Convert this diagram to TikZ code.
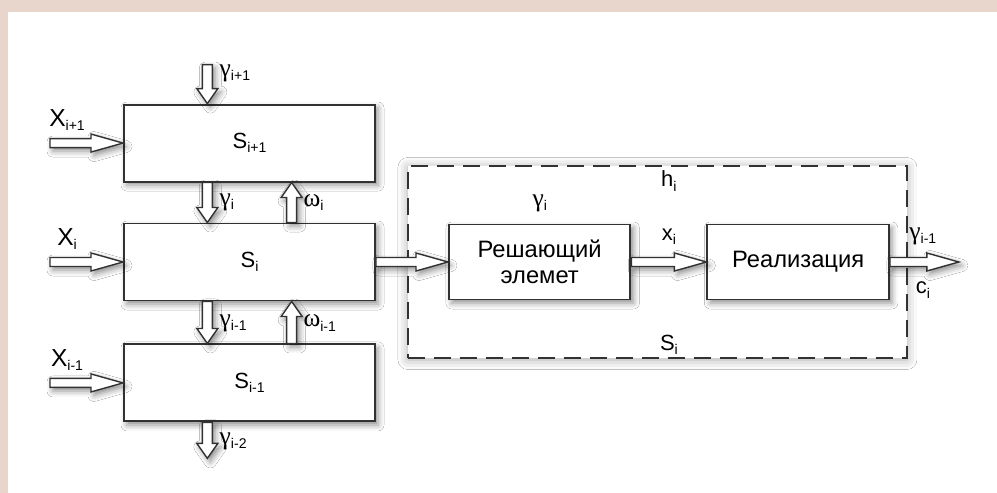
\documentclass[tikz,border=0pt]{standalone}
\usepackage{fontspec}
\setmainfont{Liberation Sans}
\newfontfamily\grk{Liberation Serif}
\usetikzlibrary{positioning,calc,shadows.blur}

\definecolor{ink}{RGB}{50,50,50}
\definecolor{marble}{RGB}{232,214,205}

\newcommand\ix[1]{\raisebox{-2.4pt}{\fontsize{8}{9}\selectfont #1}}
\newcommand\gmm{{\grk\fontsize{14.5}{16}\selectfont γ}}
\newcommand\omg{{\grk\fontsize{14.5}{16}\selectfont ω}}

\tikzset{
  soft/.style={blur shadow={shadow xshift=0.6mm,shadow yshift=-0.7mm,shadow blur radius=1.2mm,shadow opacity=45}},
  box/.style={draw=ink,line width=1.1pt,fill=white,soft,minimum width=50.2mm,minimum height=15.4mm,font=\fontsize{12.5}{15}\selectfont},
  unit/.style={box,minimum width=36.3mm,minimum height=15mm,align=center,font=\fontsize{13.5}{14.8}\selectfont},
  dashbox/.style={draw=ink,line width=1.1pt,dash pattern=on 3.4mm off 1.8mm,fill=white,inner sep=0pt,
    blur shadow={shadow xshift=0mm,shadow yshift=-0.3mm,shadow blur radius=2mm,shadow opacity=35}},
  lbl/.style={inner sep=0pt,font=\fontsize{12.5}{15}\selectfont},
  fat arrow/.style n args={3}{draw=ink,fill=white,line width=0.8pt,line join=miter,soft,
    to path={-- ($(\tikztostart)!#1!90:(\tikztotarget)$)
      -- ($(\tikztotarget)!#3!(\tikztostart)!#1!90:(\tikztotarget)$)
      -- ($(\tikztotarget)!#3!(\tikztostart)!#2!90:(\tikztotarget)$)
      -- (\tikztotarget)
      -- ($(\tikztotarget)!#3!(\tikztostart)!#2!-90:(\tikztotarget)$)
      -- ($(\tikztotarget)!#3!(\tikztostart)!#1!-90:(\tikztotarget)$)
      -- ($(\tikztostart)!#1!-90:(\tikztotarget)$) -- cycle}},
  harrow/.style={fat arrow={0.9mm}{1.8mm}{6.4mm}},
  varrow/.style={fat arrow={1mm}{2.1mm}{3mm}},
}

\begin{document}
\begin{tikzpicture}[x=0.2mm,y=0.2mm,node distance=8mm]
  \useasboundingbox (0,0) rectangle (997,-493);
  \fill[marble] (0,0) rectangle (997,-493);
  \fill[white] (8,-12) rectangle (997,-493);
  % stages
  \node[box] (s0) at (249.5,-262) {S\ix{i}};
  \node[box,above=of s0] (s1) {S\ix{i+1}};
  \node[box,below=8.4mm of s0] (s2) {S\ix{i-1}};
  % inside of S_i
  \node[dashbox,minimum width=99.8mm,minimum height=38.4mm,right=6.2mm of s0] (hbox) {};
  \node[unit,right=14.4mm of s0] (dec) {Решающий\\элемет};
  \node[unit,right=15mm of dec] (real) {Реализация};
  \coordinate (mid) at ($(dec.east)!.5!(real.west)$);
  \coordinate (htop) at (hbox.north -| mid);
  \coordinate (hbot) at (hbox.south -| mid);
  \node[lbl] (hlab) at ([yshift=-3.2mm]htop) {h\ix{i}};
  \node[lbl] (slab) at ([yshift=2.8mm]hbot) {S\ix{i}};
  \node[lbl] (xlab) at ([yshift=5mm]mid) {x\ix{i}};
  \node[lbl] (glab) at ([yshift=4.1mm]dec.north) {\gmm\ix{i}};

  % ports on the stage boxes
  \foreach \bx in {s1,s0,s2}{
    \coordinate (\bx-t1) at ($(\bx.north west)!1/3!(\bx.north east)$);
    \coordinate (\bx-t2) at ($(\bx.north west)!2/3!(\bx.north east)$);
    \coordinate (\bx-b1) at ($(\bx.south west)!1/3!(\bx.south east)$);
    \coordinate (\bx-b2) at ($(\bx.south west)!2/3!(\bx.south east)$);
  }
  \coordinate (gtop) at ([yshift=7.8mm]s1-t1);
  \coordinate (gbot) at ([yshift=-7.2mm]s2-b1);
  \coordinate (x1in) at ([xshift=-14.6mm]s1.west);
  \coordinate (x0in) at ([xshift=-14.6mm]s0.west);
  \coordinate (x2in) at ([xshift=-14.6mm]s2.west);
  \coordinate (out) at ([xshift=13.8mm]real.east);

  \draw[varrow] (gtop) to (s1-t1);
  \draw[varrow] (s1-b1) to (s0-t1);
  \draw[varrow] (s0-t2) to (s1-b2);
  \draw[varrow] (s0-b1) to (s2-t1);
  \draw[varrow] (s2-t2) to (s0-b2);
  \draw[varrow] (s2-b1) to (gbot);
  \draw[harrow] (x1in) to (s1.west);
  \draw[harrow] (x0in) to (s0.west);
  \draw[harrow] (x2in) to (s2.west);
  \draw[harrow] (s0.east) to (dec.west);
  \draw[harrow] (dec.east) to (real.west);
  \draw[harrow] (real.east) to (out);

  \node[lbl,anchor=west] at ([shift={(2.4mm,-1.8mm)}]gtop) {\gmm\ix{i+1}};
  \node[lbl,anchor=west] at ([shift={(2.4mm,-4mm)}]s1-b1) {\gmm\ix{i}};
  \node[lbl,anchor=west] at ([shift={(2.3mm,-4mm)}]s1-b2) {\omg\ix{i}};
  \node[lbl,anchor=west] at ([shift={(2.4mm,-4.3mm)}]s0-b1) {\gmm\ix{i-1}};
  \node[lbl,anchor=west] at ([shift={(2.3mm,-4.3mm)}]s0-b2) {\omg\ix{i-1}};
  \node[lbl,anchor=west] at ([shift={(2.4mm,-3.7mm)}]s2-b1) {\gmm\ix{i-2}};
  \node[lbl,font=\fontsize{14}{16}\selectfont] at ([shift={(3.4mm,4.6mm)}]x1in) {X\ix{i+1}};
  \node[lbl,font=\fontsize{14}{16}\selectfont] at ([shift={(3.4mm,4.6mm)}]x0in) {X\ix{i}};
  \node[lbl,font=\fontsize{14}{16}\selectfont] at ([shift={(3.4mm,4.6mm)}]x2in) {X\ix{i-1}};
  \node[lbl] at ([shift={(6.6mm,5.2mm)}]real.east) {\gmm\ix{i-1}};
  \node[lbl] at ([shift={(6.6mm,-5.6mm)}]real.east) {c\ix{i}};
\end{tikzpicture}
\end{document}
